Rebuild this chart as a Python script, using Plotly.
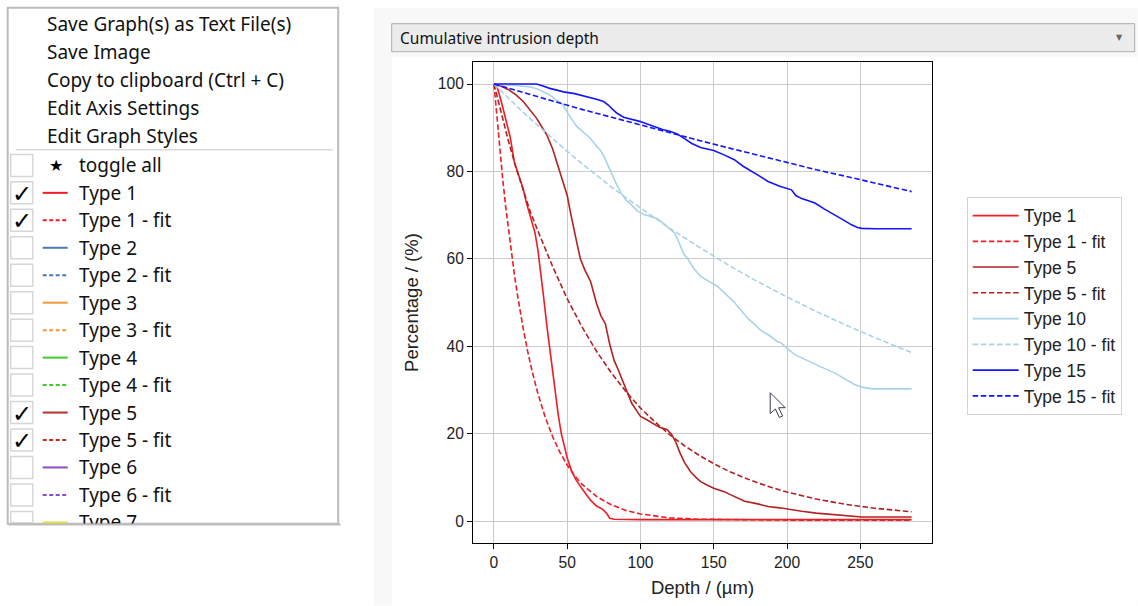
import plotly.graph_objects as go

# ---------------- data ----------------
type1_x = [0, 2, 5, 8, 11, 14, 16, 18, 20, 22, 25, 28, 30, 32, 34, 36, 38, 40, 42, 44, 46, 48, 50,
           53, 56, 60, 63, 66, 70, 74, 77, 79, 82, 100, 150, 200, 250, 285]
type1_y = [100, 99.5, 96, 92, 88, 82, 80, 78, 76, 73, 69.5, 66, 62, 57, 51, 45, 39.5, 34, 29, 24, 20, 17, 14.5,
           11.5, 9.5, 7.5, 6, 4.8, 3.5, 2.8, 1.8, 0.7, 0.5, 0.4, 0.4, 0.4, 0.4, 0.4]

type1_fit_x = [0, 2, 4, 6, 8, 10, 12, 14, 16, 18, 20, 23, 26, 30, 35, 40, 45, 50, 55, 60, 70, 80, 90,
               100, 120, 140, 170, 200, 240, 285]
type1_fit_y = [100, 92.1, 84.9, 78.2, 72.0, 66.4, 61.1, 56.3, 51.9, 47.8, 44.0, 38.9, 34.4, 29.2, 23.8,
               19.4, 15.8, 12.9, 10.5, 8.5, 5.7, 3.8, 2.5, 1.7, 0.8, 0.5, 0.35, 0.3, 0.3, 0.3]

type5_x = [0, 5, 10, 15, 20, 25, 29, 33, 36, 40, 43, 45, 48, 50, 52, 54, 57, 59, 62, 66, 70, 73, 76, 79,
           82, 85, 88, 91, 94, 97, 100, 104, 108, 113, 118, 121, 124, 127, 130, 134, 138, 141, 146, 150,
           157, 164, 171, 180, 187, 195, 200, 210, 220, 233, 242, 251, 265, 285]
type5_y = [100, 99.5, 98.7, 97.5, 96, 94, 92.2, 90, 88.4, 85.2, 82, 79.5, 76.5, 74.5, 71, 67.5, 63, 60,
           57.5, 54.8, 49.8, 47, 45.2, 40.5, 36.8, 34.5, 32, 29.5, 27, 25.5, 24, 23.3, 22.5, 21.5, 21, 20,
           18.2, 15.6, 13.5, 11.4, 10, 9.1, 8.2, 7.6, 6.8, 5.7, 4.6, 4.0, 3.4, 3.1, 2.8, 2.3, 1.9, 1.5,
           1.2, 1.0, 1.0, 1.0]

type5_fit_x = [0, 5, 10, 15, 20, 25, 30, 40, 50, 60, 70, 80, 90, 100, 110, 120, 130, 140, 150, 160,
               170, 180, 190, 200, 220, 240, 260, 285]
type5_fit_y = [100, 93.2, 86.8, 80.9, 75.5, 70.6, 66.4, 58.3, 50.9, 44.5, 38.9, 34.0, 29.7, 25.9, 22.7,
               19.8, 17.3, 15.1, 13.2, 11.5, 10.1, 8.8, 7.7, 6.7, 5.1, 3.9, 3.0, 2.2]

type10_x = [0, 10, 20, 25, 30, 35, 38, 42, 47, 50, 53, 56.5, 60, 65.7, 70, 72.5, 75, 79.4, 83, 86.3, 90,
            94, 97.7, 102, 107, 111.5, 116, 119, 123, 126, 129.7, 132, 136, 141, 147, 152.6, 158, 164,
            168, 173, 178, 182.3, 188, 193, 196, 200.7, 206, 214.4, 222, 232.7, 240, 246, 251, 258, 265,
            285]
type10_y = [100, 99.8, 99.5, 99.3, 98.8, 98, 97.5, 96.5, 95.3, 93.5, 92, 90.3, 89.3, 87.6, 85.8, 84.9,
            83.5, 80, 77.5, 75.4, 73.5, 72.3, 71, 70.2, 69.6, 69.2, 68, 67.2, 66, 64, 61, 60.2, 58, 56,
            54.8, 53.7, 52, 50.1, 48.5, 46.5, 45, 43.6, 42.5, 41.2, 40.8, 39.3, 38, 36.6, 35.5, 33.9,
            32.5, 31.3, 30.7, 30.3, 30.3, 30.3]

type10_fit_x = [0, 10, 20, 30, 40, 50, 60, 70, 80, 90, 100, 120, 140, 160, 180, 200, 220, 240, 260, 285]
type10_fit_y = [100, 96.7, 93.5, 90.5, 87.5, 84.6, 81.8, 79.1, 76.5, 74.0, 71.6, 67.0, 62.7, 58.6, 54.8,
                51.3, 48.0, 44.9, 42.0, 38.6]

type15_x = [0, 10, 20, 29, 33, 38, 43, 47.4, 55, 60, 65.7, 70, 74.8, 78, 81, 84, 88.5, 93, 97, 100, 105,
            109, 115, 120, 125, 130, 135, 141, 146, 150, 157, 164, 170, 175.5, 181, 187, 195, 203, 206,
            210, 215, 219, 225, 232.6, 238, 244, 248, 251, 260, 285]
type15_y = [100, 100, 100, 100, 99.6, 99, 98.6, 98.2, 97.8, 97.4, 97, 96.5, 96, 95.2, 94.2, 93.3, 92.4,
            92, 91.7, 91.4, 90.8, 90.3, 89.6, 89.2, 88.6, 87.5, 86.4, 85.5, 85.1, 84.8, 83.8, 82.7, 81.2,
            80, 79, 77.7, 76.6, 75.8, 74.5, 73.8, 73.3, 72.8, 71.5, 70.1, 69, 67.8, 67.2, 67.0, 66.9, 66.9]

type15_fit_x = [0, 20, 40, 60, 80, 100, 120, 140, 160, 180, 200, 220, 240, 260, 285]
type15_fit_y = [100, 98.0, 96.1, 94.2, 92.4, 90.6, 88.8, 87.1, 85.4, 83.7, 82.0, 80.4, 78.9, 77.3, 75.4]

series_names = ["Type 1", "Type 1 - fit", "Type 5", "Type 5 - fit",
                "Type 10", "Type 10 - fit", "Type 15", "Type 15 - fit"]
series_colors = ["#ee1c25", "#ee1c25", "#b22222", "#b22222",
                 "#a9d3e6", "#a9d3e6", "#1414ff", "#1414ff"]

x_ticks = [0, 50, 100, 150, 200, 250]
y_ticks = [0, 20, 40, 60, 80, 100]

menu_actions = ["Save Graph(s) as Text File(s)", "Save Image", "Copy to clipboard (Ctrl + C)",
                "Edit Axis Settings", "Edit Graph Styles"]
menu_rows = ["toggle all", "Type 1", "Type 1 - fit", "Type 2", "Type 2 - fit", "Type 3", "Type 3 - fit",
             "Type 4", "Type 4 - fit", "Type 5", "Type 5 - fit", "Type 6", "Type 6 - fit", "Type 7"]
menu_checked = [False, True, True, False, False, False, False, False, False, True, True, False, False, False]
menu_colors = [None, "#ee1c25", "#ee1c25", "#4a78b8", "#4a78b8", "#f0993a", "#f0993a",
               "#3dcc2a", "#3dcc2a", "#b5322c", "#b5322c", "#8a4cc2", "#8a4cc2", "#e6e23a"]

# ---------------- layout helpers ----------------
W, H = 1138, 606
L, R, T, B = 473.3, 932.3, 62.3, 543.3


def px(x):
    return (x - L) / (R - L)


def py(y):
    return (B - y) / (B - T)


MPL_FONT = "Liberation Sans, Arial, sans-serif"
UI_FONT = "Noto Sans, Open Sans, sans-serif"

fig = go.Figure()

data = [(type1_x, type1_y), (type1_fit_x, type1_fit_y), (type5_x, type5_y), (type5_fit_x, type5_fit_y),
        (type10_x, type10_y), (type10_fit_x, type10_fit_y), (type15_x, type15_y),
        (type15_fit_x, type15_fit_y)]
for i, ((xs, ys), name, col) in enumerate(zip(data, series_names, series_colors)):
    fig.add_trace(go.Scatter(
        x=xs, y=ys, mode="lines", name=name, legendgroup=name,
        line=dict(color=col, width=1.6, dash="5.5px,2.6px" if "fit" in name else "solid"),
    ))

shapes = []
annotations = []

# background panel & canvas
shapes.append(dict(type="rect", xref="paper", yref="paper", x0=px(374), x1=px(1138), y0=py(8), y1=py(606),
                    fillcolor="#f8f8f8", line=dict(width=0), layer="below"))
shapes.append(dict(type="rect", xref="paper", yref="paper", x0=px(392), x1=px(1138), y0=py(57), y1=py(606),
                    fillcolor="white", line=dict(width=0), layer="below"))

# combo box
shapes.append(dict(type="rect", xref="paper", yref="paper", x0=px(392), x1=px(1135), y0=py(24), y1=py(52),
                    fillcolor="#ececec", line=dict(color="#adadad", width=1), layer="below"))
annotations.append(dict(text="Cumulative intrusion depth", xref="paper", yref="paper", x=px(398), y=py(38),
                        xanchor="left", yanchor="middle", showarrow=False,
                        font=dict(family=UI_FONT, size=15.5, color="#111")))
annotations.append(dict(text="▼", xref="paper", yref="paper", x=px(1120), y=py(37.5),
                        xanchor="center", yanchor="middle", showarrow=False,
                        font=dict(family="DejaVu Sans", size=8, color="#666")))

# left menu
shapes.append(dict(type="rect", xref="paper", yref="paper", x0=px(8), x1=px(338.5), y0=py(8), y1=py(524),
                    fillcolor="white", line=dict(color="#bcbcbc", width=2), layer="below"))
for i, txt in enumerate(menu_actions):
    annotations.append(dict(text=txt, xref="paper", yref="paper", x=px(45), y=py(24 + 28 * i),
                            xanchor="left", yanchor="middle", showarrow=False,
                            font=dict(family=UI_FONT, size=19, color="#111")))
shapes.append(dict(type="line", xref="paper", yref="paper", x0=px(16), x1=px(333), y0=py(150), y1=py(150),
                    line=dict(color="#dadada", width=1.5), layer="below"))

for i, (txt, chk, col) in enumerate(zip(menu_rows, menu_checked, menu_colors)):
    yc = 165.7 + 27.46 * i
    top = yc - 11
    bot = min(yc + 11, 523)
    shapes.append(dict(type="rect", xref="paper", yref="paper", x0=px(11), x1=px(33), y0=py(top), y1=py(bot),
                        fillcolor="white", line=dict(color="#d6d6d6", width=1.5), layer="below"))
    if chk:
        annotations.append(dict(text="✓", xref="paper", yref="paper", x=px(22), y=py(yc + 1),
                                xanchor="center", yanchor="middle", showarrow=False,
                                font=dict(family="DejaVu Sans", size=24, color="#000")))
    if col is None:
        annotations.append(dict(text="★", xref="paper", yref="paper", x=px(56), y=py(yc),
                                xanchor="center", yanchor="middle", showarrow=False,
                                font=dict(family="DejaVu Sans", size=16, color="#000")))
    else:
        shapes.append(dict(type="line", xref="paper", yref="paper", x0=px(43), x1=px(68), y0=py(yc), y1=py(yc),
                            line=dict(color=col, width=2, dash="4px,2.5px" if "fit" in txt else "solid"),
                            layer="below"))
    annotations.append(dict(text=txt, xref="paper", yref="paper", x=px(77), y=py(yc),
                            xanchor="left", yanchor="middle", showarrow=False,
                            font=dict(family=UI_FONT, size=19, color="#111")))

# clip the last, partly hidden menu row
annotations.append(dict(text=" ", xref="paper", yref="paper", x=px(8), y=py(523), xanchor="left",
                        yanchor="top", showarrow=False, width=331, height=2, bgcolor="#bcbcbc",
                        borderpad=0, font=dict(size=1)))
annotations.append(dict(text=" ", xref="paper", yref="paper", x=px(0), y=py(525), xanchor="left",
                        yanchor="top", showarrow=False, width=360, height=30, bgcolor="white",
                        borderpad=0, font=dict(size=1)))

# mouse pointer
cur = [(0, 0), (0, 20.8), (5.2, 16.3), (9.1, 24.7), (12.4, 23.4), (8.5, 15), (15, 15)]
x0c, y0c = 770.5, 393
path = "M " + " L ".join(f"{px(x0c + a):.5f},{py(y0c + b):.5f}" for a, b in cur) + " Z"
shapes.append(dict(type="path", xref="paper", yref="paper", path=path, fillcolor="white",
                    line=dict(color="#3a3a4a", width=1), layer="above"))

axis_common = dict(
    showgrid=True, gridcolor="#cbcbcb", gridwidth=1, zeroline=False,
    showline=True, linecolor="black", linewidth=1, mirror=True,
    ticks="outside", ticklen=5, tickwidth=1, tickcolor="black",
    tickfont=dict(family=MPL_FONT, size=15.6, color="#222"),
    automargin=False,
)

fig.update_layout(
    width=W, height=H,
    margin=dict(l=L, r=W - R, t=T, b=H - B, pad=0),
    paper_bgcolor="white", plot_bgcolor="white",
    xaxis=dict(range=[-14.3, 298.9], tickvals=x_ticks,
               title=dict(text="Depth / (µm)", font=dict(family=MPL_FONT, size=18.5, color="#222"), standoff=11),
               **axis_common),
    yaxis=dict(range=[-4.94, 105.03], tickvals=y_ticks,
               title=dict(text="Percentage / (%)", font=dict(family=MPL_FONT, size=18.5, color="#222"),
                          standoff=14),
               **axis_common),
    legend=dict(x=px(967), y=py(197), xanchor="left", yanchor="top", bgcolor="white",
                bordercolor="#d4d4d4", borderwidth=1, traceorder="grouped", tracegroupgap=0,
                itemwidth=46,
                font=dict(family=MPL_FONT, size=17.5, color="#222")),
    shapes=shapes,
    annotations=annotations,
    showlegend=True,
)

fig.write_html("out.html", config={"displayModeBar": False},
               post_script="document.body.style.margin='0px';document.body.style.padding='0px';")
